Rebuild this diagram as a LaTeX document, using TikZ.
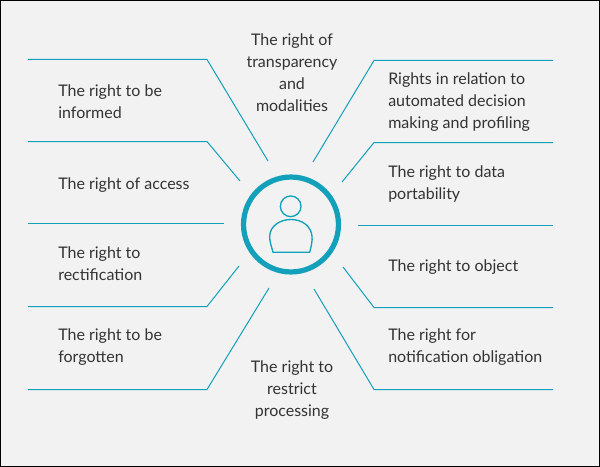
\documentclass[tikz,border=0pt]{standalone}
\usepackage{fontspec}
\usepackage{xcolor}
\setmainfont{Lato}
\definecolor{spokeblue}{HTML}{12A0BA}
\definecolor{paper}{HTML}{F2F2F2}
\definecolor{ink}{HTML}{333333}
\tikzset{
  rightlabel/.style={anchor=west, align=left, inner sep=0pt, text=ink, font=\fontsize{12}{16.5}\selectfont},
  toplabel/.style={anchor=center, align=center, inner sep=0pt, text=ink, font=\fontsize{12}{16.5}\selectfont},
  spoke/.style={draw=spokeblue, line width=0.75pt},
  hub/.style={circle, draw=spokeblue, line width=3.9pt, minimum size=71.2pt, inner sep=0pt},
  figure/.style={draw=spokeblue, line width=1pt}
}
\begin{document}
\begin{tikzpicture}[x=0.75pt, y=-0.75pt]
  \useasboundingbox (0,0) rectangle (600,467);
  \draw[fill=paper, draw=black, line width=1pt] (0.7,0.7) rectangle (599.3,466.3);

  % spokes, left side then right side
  \foreach \n/\ax/\ay/\bx/\by/\cx/\cy in {
      1/28/59.5/207/59.5/268/161, 2/28/141.5/207/141.5/240/181,
      3/28/223.5/207/223.5/224/223.5,
      4/28/306.5/207/306.5/239/266, 5/28/389.5/207/389.5/269/288,
      6/553/60.5/374/60.5/313/162, 7/553/142.5/374/142.5/342/182,
      8/553/225.5/374/225.5/358/225.5,
      9/553/307.5/374/307.5/343/267, 10/553/389.5/374/389.5/314/289} {
    \coordinate (s\n) at (\ax,\ay);
    \coordinate (k\n) at (\bx,\by);
    \coordinate (e\n) at (\cx,\cy);
    \draw[spoke] (s\n) -- (k\n) -- (e\n);
  }

  \node[hub] (hub) at (291,224.5) {};
  \node[circle, figure, minimum size=15.5pt, inner sep=0pt] (head) at (290.7,206.3) {};
  \draw[figure, line join=round] (273,252.3) -- (309.7,252.3)
    .. controls (311.5,245) and (312.5,241) .. (312,236)
    .. controls (311,226) and (302,219.5) .. (291,219.5)
    .. controls (280,219.5) and (270,226) .. (269.7,236)
    .. controls (269.5,241) and (271,245) .. (273,252.3) -- cycle;

  % labels
  \node[toplabel] (transparency) at (292,72.5) {The right of\\transparency\\and\\modalities};
  \node[toplabel] (restrict) at (292,390) {The right to\\restrict\\processing};
  \node[rightlabel] (informed) at (58,102) {The right to be\\informed};
  \node[rightlabel] (access) at (58,185) {The right of access};
  \node[rightlabel] (rectification) at (58,264) {The right to\\rectification};
  \node[rightlabel] (forgotten) at (58,347.5) {The right to be\\forgotten};
  \node[rightlabel] (automated) at (388,102) {Rights in relation to\\automated decision\\making and profiling};
  \node[rightlabel] (portability) at (388,184) {The right to data\\portability};
  \node[rightlabel] (object) at (388,267) {The right to object};
  \node[rightlabel] (notification) at (388,347.5) {The right for\\notification obligation};
\end{tikzpicture}
\end{document}
